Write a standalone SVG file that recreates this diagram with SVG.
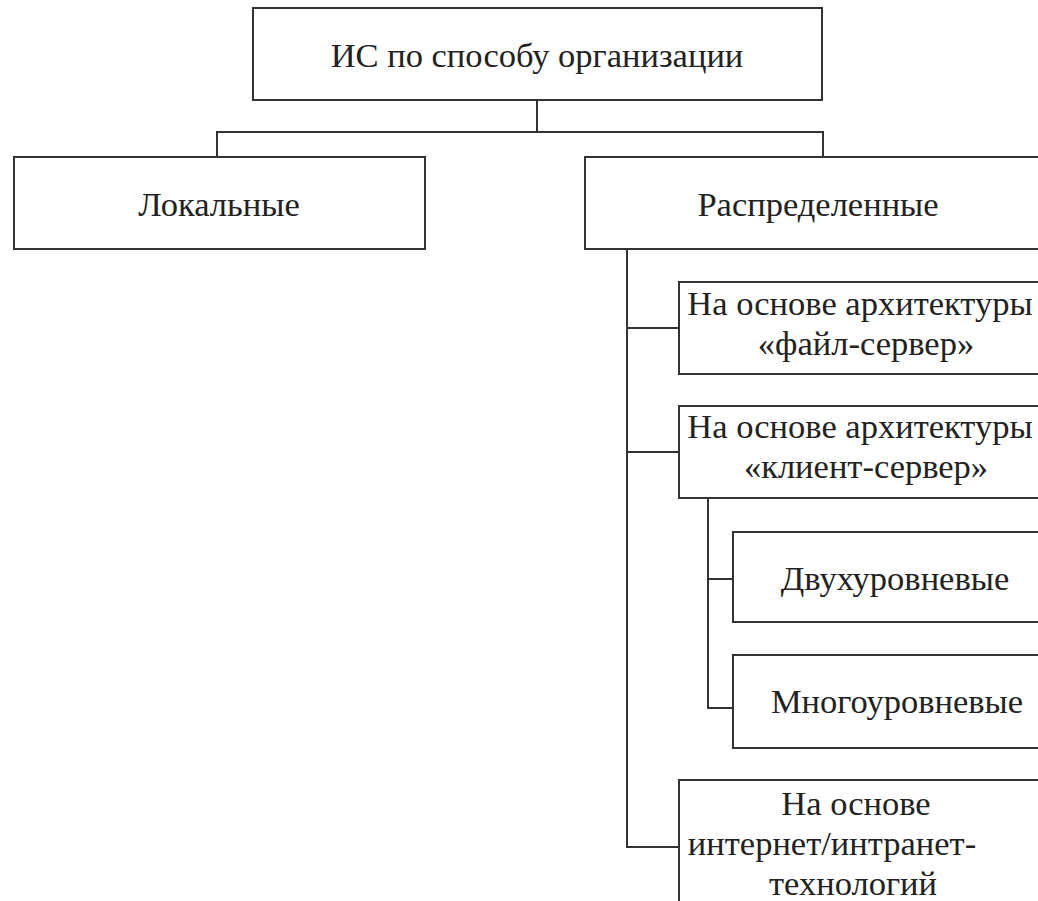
<svg xmlns="http://www.w3.org/2000/svg" width="1038" height="901" viewBox="0 0 1038 901">
<style>
.box{fill:#fff;stroke:#333;stroke-width:2}
.ln{fill:none;stroke:#333;stroke-width:2}
text{font-family:"Liberation Serif","DejaVu Serif",serif;font-size:34.5px;fill:#222;text-anchor:middle}
</style>
<rect width="1038" height="901" fill="#fff"/>
<g id="connectors">
<path class="ln" d="M537 100V132M217 157V132H823V157"/>
<path class="ln" d="M627 249V847H679M627 328H679M627 452H679"/>
<path class="ln" d="M708 498V708H733M708 579H733"/>
</g>
<g id="root"><rect class="box" x="253" y="8" width="569" height="92"/><text x="537" y="67">ИС по способу организации</text></g>
<g id="local"><rect class="box" x="14" y="157" width="411" height="92"/><text x="219" y="216">Локальные</text></g>
<g id="distributed"><rect class="box" x="585" y="157" width="470" height="92"/><text x="818" y="216">Распределенные</text></g>
<g id="fileserver"><rect class="box" x="679" y="282" width="376" height="92"/><text x="860" y="315">На основе архитектуры</text><text x="866" y="355">«файл-сервер»</text></g>
<g id="clientserver"><rect class="box" x="679" y="406" width="376" height="92"/><text x="860" y="438">На основе архитектуры</text><text x="866" y="478">«клиент-сервер»</text></g>
<g id="twolevel"><rect class="box" x="733" y="532" width="322" height="90"/><text x="895" y="590">Двухуровневые</text></g>
<g id="multilevel"><rect class="box" x="733" y="655" width="322" height="93"/><text x="897" y="713">Многоуровневые</text></g>
<g id="internet"><rect class="box" x="679" y="780" width="376" height="140"/><text x="856" y="815">На основе</text><text x="832" y="855">интернет/интранет-</text><text x="853" y="895">технологий</text></g>
</svg>
